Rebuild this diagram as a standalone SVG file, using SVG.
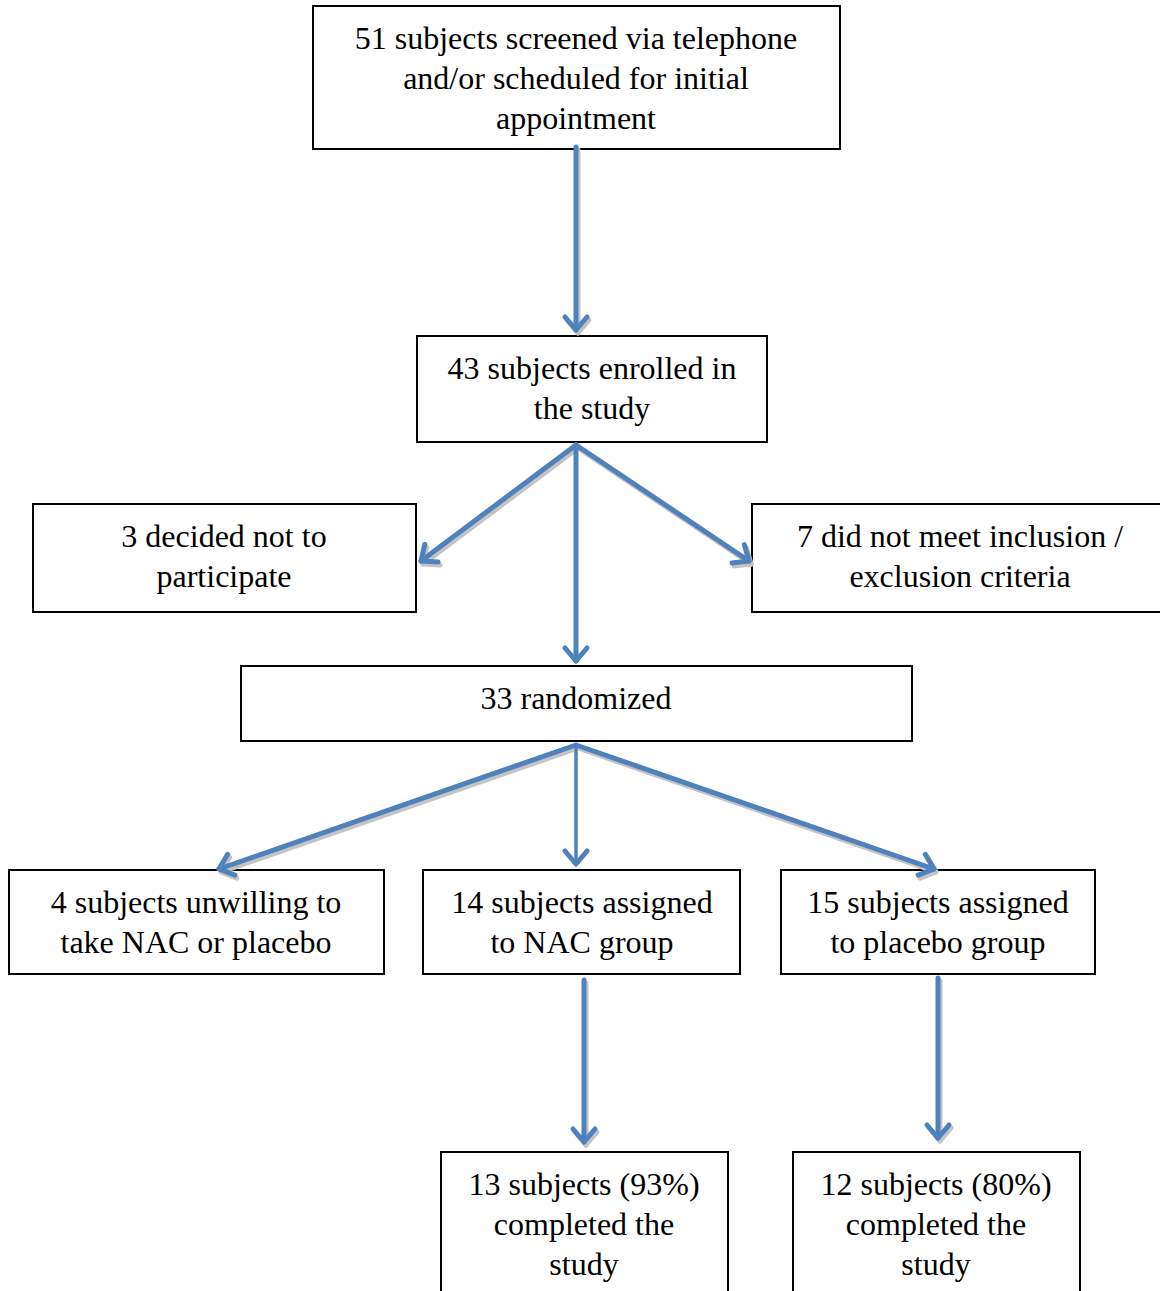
<svg xmlns="http://www.w3.org/2000/svg" width="1160" height="1291" viewBox="0 0 1160 1291">
<style>
.box{fill:#fff;stroke:#000;stroke-width:2}
.t{font-family:"Liberation Serif","Times New Roman",serif;font-size:32px;fill:#000;text-anchor:middle}
.c{fill:none;stroke:#4F81BD;stroke-width:5;stroke-linecap:round}
.s{fill:none;stroke:#c4c4c4;stroke-width:5;stroke-linecap:round}
</style>
<defs>
<marker id="ah" markerUnits="userSpaceOnUse" markerWidth="40" markerHeight="40" viewBox="-20 -20 40 40" refX="0" refY="0" orient="auto" overflow="visible">
<path d="M-13,-11 L0,0 L-13,11" fill="none" stroke="#4F81BD" stroke-width="5" stroke-linecap="round" stroke-linejoin="round"/>
</marker>
<marker id="ahs" markerUnits="userSpaceOnUse" markerWidth="40" markerHeight="40" viewBox="-20 -20 40 40" refX="0" refY="0" orient="auto" overflow="visible">
<path d="M-13,-11 L0,0 L-13,11" fill="none" stroke="#c4c4c4" stroke-width="5" stroke-linecap="round" stroke-linejoin="round"/>
</marker>
</defs>
<rect width="1160" height="1291" fill="#fff"/>
<g id="n1"><rect class="box" x="313" y="6" width="527" height="143"/>
<text class="t" x="576" y="49">51 subjects screened via telephone</text>
<text class="t" x="576" y="89">and/or scheduled for initial</text>
<text class="t" x="576" y="129">appointment</text></g>
<g id="n2"><rect class="box" x="417" y="336" width="350" height="106"/>
<text class="t" x="592" y="379">43 subjects enrolled in</text>
<text class="t" x="592" y="419">the study</text></g>
<g id="n3"><rect class="box" x="33" y="504" width="383" height="108"/>
<text class="t" x="224" y="547">3 decided not to</text>
<text class="t" x="224" y="587">participate</text></g>
<g id="n4"><rect class="box" x="752" y="504" width="420" height="108"/>
<text class="t" x="960" y="547">7 did not meet inclusion /</text>
<text class="t" x="960" y="587">exclusion criteria</text></g>
<g id="n5"><rect class="box" x="241" y="666" width="671" height="75"/>
<text class="t" x="576" y="709">33 randomized</text></g>
<g id="n6"><rect class="box" x="9" y="870" width="375" height="104"/>
<text class="t" x="196" y="913">4 subjects unwilling to</text>
<text class="t" x="196" y="953">take NAC or placebo</text></g>
<g id="n7"><rect class="box" x="423" y="870" width="317" height="104"/>
<text class="t" x="582" y="913">14 subjects assigned</text>
<text class="t" x="582" y="953">to NAC group</text></g>
<g id="n8"><rect class="box" x="781" y="870" width="314" height="104"/>
<text class="t" x="938" y="913">15 subjects assigned</text>
<text class="t" x="938" y="953">to placebo group</text></g>
<g id="n9"><rect class="box" x="441" y="1152" width="287" height="160"/>
<text class="t" x="584" y="1195">13 subjects (93%)</text>
<text class="t" x="584" y="1235">completed the</text>
<text class="t" x="584" y="1275">study</text></g>
<g id="n10"><rect class="box" x="793" y="1152" width="287" height="160"/>
<text class="t" x="936" y="1195">12 subjects (80%)</text>
<text class="t" x="936" y="1235">completed the</text>
<text class="t" x="936" y="1275">study</text></g>
<g id="connectors">
<g transform="translate(2,3)">
<line class="s" x1="576" y1="147" x2="576" y2="330" marker-end="url(#ahs)"/>
<line class="s" x1="576" y1="445" x2="421" y2="561" marker-end="url(#ahs)"/>
<line class="s" x1="576" y1="445" x2="749" y2="561" marker-end="url(#ahs)"/>
<line class="s" x1="576" y1="745" x2="219" y2="869" marker-end="url(#ahs)"/>
<line class="s" x1="576" y1="745" x2="934" y2="869" marker-end="url(#ahs)"/>
<line class="s" x1="584" y1="980" x2="584" y2="1142" marker-end="url(#ahs)"/>
<line class="s" x1="938" y1="978" x2="938" y2="1138" marker-end="url(#ahs)"/>
</g>
<line class="c" x1="576" y1="147" x2="576" y2="330" marker-end="url(#ah)"/>
<line class="c" x1="576" y1="445" x2="421" y2="561" marker-end="url(#ah)"/>
<line class="c" x1="576" y1="445" x2="576" y2="661" marker-end="url(#ah)"/>
<line class="c" x1="576" y1="445" x2="749" y2="561" marker-end="url(#ah)"/>
<line class="c" x1="576" y1="745" x2="219" y2="869" marker-end="url(#ah)"/>
<line class="c" x1="576" y1="745" x2="576" y2="864" marker-end="url(#ah)" style="stroke-width:3.5"/>
<line class="c" x1="576" y1="745" x2="934" y2="869" marker-end="url(#ah)"/>
<line class="c" x1="584" y1="980" x2="584" y2="1142" marker-end="url(#ah)"/>
<line class="c" x1="938" y1="978" x2="938" y2="1138" marker-end="url(#ah)"/>
</g>
</svg>
